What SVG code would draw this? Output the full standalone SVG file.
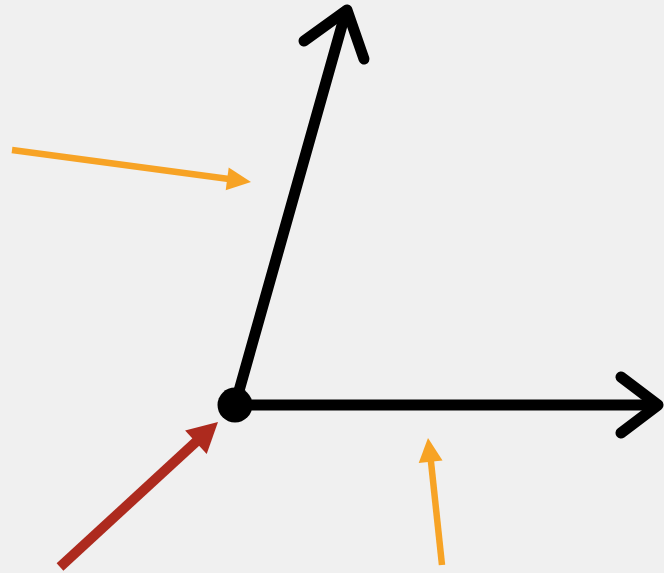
<svg xmlns="http://www.w3.org/2000/svg" width="664" height="573" viewBox="0 0 664 573">
  <style>
    .axis { stroke: #000; stroke-width: 11; fill: none; stroke-linecap: round; stroke-linejoin: round; }
    .orange { stroke: #f7a325; stroke-width: 6.5; fill: none; }
    .orange-head { fill: #f7a325; }
    .red { stroke: #ad2a1e; stroke-width: 10; fill: none; }
    .red-head { fill: #ad2a1e; }
  </style>
  <rect x="0" y="0" width="664" height="573" fill="#f0f0f0"/>
  <g id="connectors">
    <g id="axis-up">
      <line class="axis" x1="235" y1="405" x2="346" y2="11"/>
      <polyline class="axis" points="304,41 347,10 364,59"/>
    </g>
    <g id="axis-right">
      <line class="axis" x1="235" y1="405" x2="657" y2="405"/>
      <polyline class="axis" points="621,377 658,405 621,433"/>
    </g>
    <g id="orange-arrow-1">
      <line class="orange" x1="12" y1="150" x2="229" y2="179"/>
      <polygon class="orange-head" points="251,182 228.7,167.4 225.7,190.2"/>
    </g>
    <g id="orange-arrow-2">
      <line class="orange" x1="442" y1="565" x2="430.8" y2="460"/>
      <polygon class="orange-head" points="428,438 442.5,460.5 418.7,463.1"/>
    </g>
    <g id="red-arrow">
      <line class="red" x1="60" y1="567" x2="198" y2="440"/>
      <polygon class="red-head" points="218,422 206.7,454.1 185.1,430.5"/>
    </g>
  </g>
  <g id="origin">
    <circle cx="235" cy="405" r="17.5" fill="#000"/>
  </g>
</svg>
